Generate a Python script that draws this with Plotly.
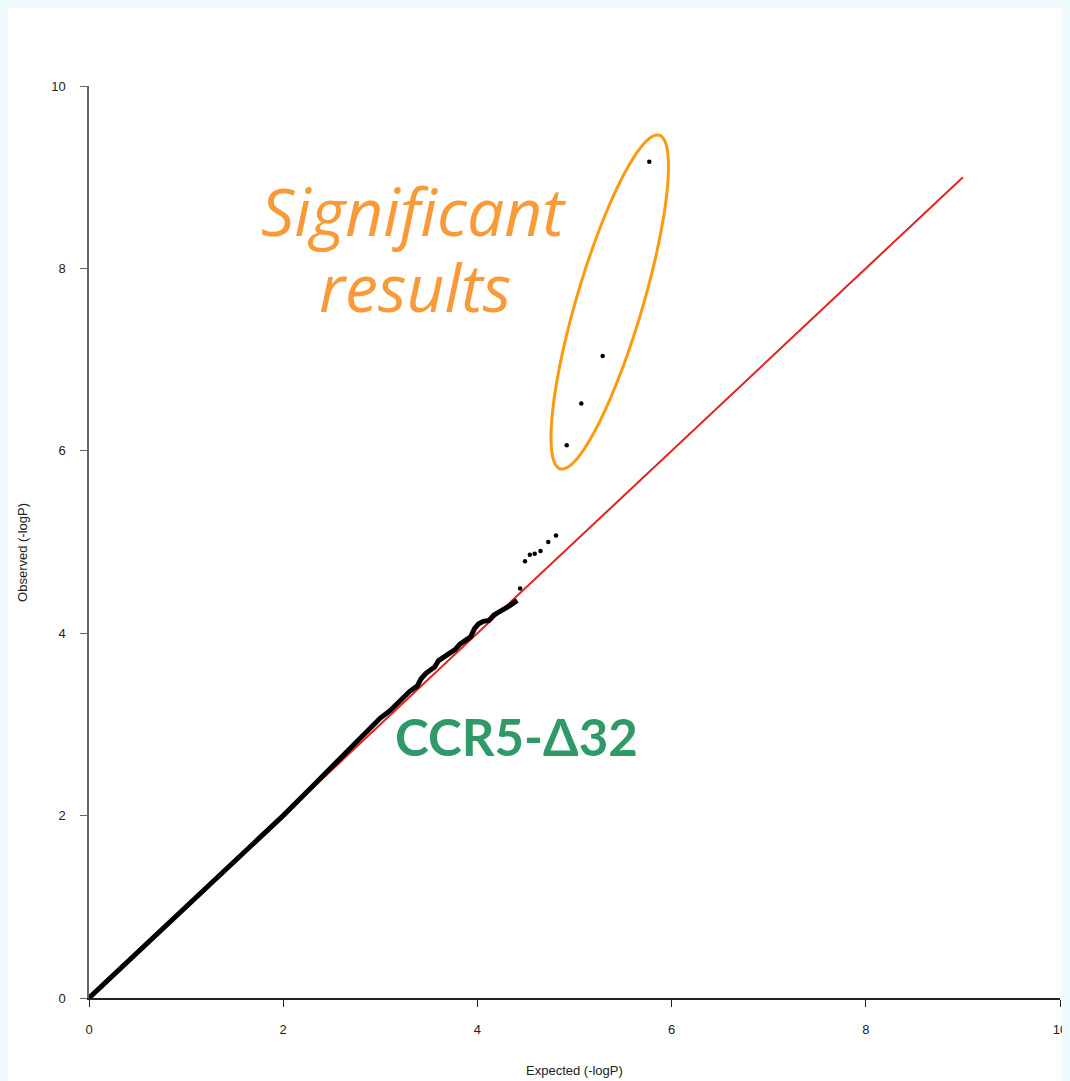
import numpy as np
import plotly.graph_objects as go

# ---------------- data ----------------
expected_dense = [0.0, 1.0, 2.0, 2.3, 2.5, 2.7, 2.9, 3.0, 3.1, 3.2, 3.3, 3.38, 3.42, 3.47,
                  3.52, 3.56, 3.60, 3.66, 3.72, 3.77, 3.82, 3.88, 3.93, 3.97, 4.01, 4.06,
                  4.12, 4.17, 4.22, 4.27, 4.33, 4.41]
observed_dense = [0.0, 1.0, 2.0, 2.32, 2.53, 2.74, 2.95, 3.07, 3.15, 3.25, 3.36, 3.42, 3.50,
                  3.56, 3.60, 3.63, 3.70, 3.74, 3.79, 3.82, 3.88, 3.93, 3.96, 4.05, 4.10,
                  4.13, 4.14, 4.20, 4.23, 4.26, 4.30, 4.36]
expected_top = [4.44, 4.49, 4.54, 4.59, 4.65, 4.73, 4.81, 4.92, 5.07, 5.29, 5.77]
observed_top = [4.49, 4.79, 4.86, 4.87, 4.90, 5.00, 5.07, 6.06, 6.52, 7.04, 9.17]
ref_line = [0, 9]
x_ticks = [0, 2, 4, 6, 8, 10]
y_ticks = [0, 2, 4, 6, 8, 10]

# ---------------- geometry helpers (screen pixel -> data / paper) ----------------
OFF = 8                      # default page margin around the figure
W, H = 1070, 1081 - OFF      # rendered width ends up 8px narrower than requested
RW = W - OFF
PX0, PX1, PY0, PY1 = 89, 1059, 86, 998   # plot area on screen
L, R = PX0 - OFF, OFF + RW - PX1
T, B = PY0 - OFF, OFF + H - PY1
pw, ph = PX1 - PX0, PY1 - PY0


def px2x(px):
    return (px - PX0) / pw * 10


def py2y(py):
    return (PY1 - py) / ph * 10


def px2paper(px):
    return (px - PX0) / pw


def py2paper(py):
    return (PY1 - py) / ph


fig = go.Figure()

fig.add_trace(go.Scatter(x=ref_line, y=ref_line, mode="lines",
                         line=dict(color="#e3231d", width=2), hoverinfo="skip",
                         showlegend=False, cliponaxis=False))
fig.add_trace(go.Scatter(x=expected_dense, y=observed_dense, mode="lines",
                         line=dict(color="#000000", width=5), showlegend=False,
                         cliponaxis=False))
fig.add_trace(go.Scatter(x=expected_top, y=observed_top, mode="markers",
                         marker=dict(color="#000000", size=4.5), showlegend=False))

# orange ellipse around significant results (annotation)
cx, cy, a, b, th = 609.2, 302.0, 174.0, 33.0, np.radians(16.5)
t = np.linspace(0, 2 * np.pi, 120)
ex = cx + a * np.cos(t) * np.sin(th) + b * np.sin(t) * np.cos(th)
ey = cy - a * np.cos(t) * np.cos(th) + b * np.sin(t) * np.sin(th)
path = "M " + " L ".join(f"{px2x(xx):.4f},{py2y(yy):.4f}" for xx, yy in zip(ex, ey)) + " Z"

shapes = [
    dict(type="path", path=path, xref="x", yref="y",
         line=dict(color="#fb9a0e", width=3)),
]

sig_font = dict(family="Open Sans", size=66, color="#f89a38", style="italic")
annotations = [
    dict(text="Significant", x=px2paper(413), y=py2paper(210),
         xref="paper", yref="paper", showarrow=False, xanchor="center", yanchor="middle",
         font=sig_font),
    dict(text="results", x=px2paper(415), y=py2paper(286),
         xref="paper", yref="paper", showarrow=False, xanchor="center", yanchor="middle",
         font=sig_font),
    dict(text="CCR5-Δ32", x=px2paper(516), y=py2paper(736),
         xref="paper", yref="paper", showarrow=False, xanchor="center", yanchor="middle",
         font=dict(family="Lato", size=51, color="#2f9a68", weight="bold")),
    dict(text="Expected (-logP)", x=px2paper(574), y=py2paper(1070),
         xref="paper", yref="paper", showarrow=False, xanchor="center", yanchor="middle",
         font=dict(family="Liberation Sans", size=13, color="#222222")),
    dict(text="Observed (-logP)", x=px2paper(22), y=py2paper(552),
         xref="paper", yref="paper", showarrow=False, xanchor="center", yanchor="middle",
         textangle=-90, font=dict(family="Liberation Sans", size=13, color="#222222")),
]

fig.update_layout(
    width=W, height=H,
    margin=dict(l=L, r=R, t=T, b=B, pad=0),
    paper_bgcolor="white",
    plot_bgcolor="white",
    shapes=shapes,
    annotations=annotations,
    showlegend=False,
    xaxis=dict(range=[0, 10], tickvals=x_ticks, ticktext=[str(v) for v in x_ticks],
               showgrid=False, zeroline=False, showline=True, linecolor="#222222",
               linewidth=1.5, ticks="outside", ticklen=7, tickcolor="#222222",
               tickwidth=1, ticklabelstandoff=12,
               tickfont=dict(family="Liberation Sans", size=13, color="#222222")),
    yaxis=dict(range=[0, 10], tickvals=y_ticks, ticktext=[str(v) for v in y_ticks],
               showgrid=False, zeroline=False, showline=True, linecolor="#666666",
               linewidth=1.5, ticks="outside", ticklen=7, tickcolor="#666666",
               tickwidth=1, ticklabelstandoff=12,
               tickfont=dict(family="Liberation Sans", size=13, color="#222222")),
)

fig.write_html("out.html", post_script="document.body.style.backgroundColor='#eefbfc';")
